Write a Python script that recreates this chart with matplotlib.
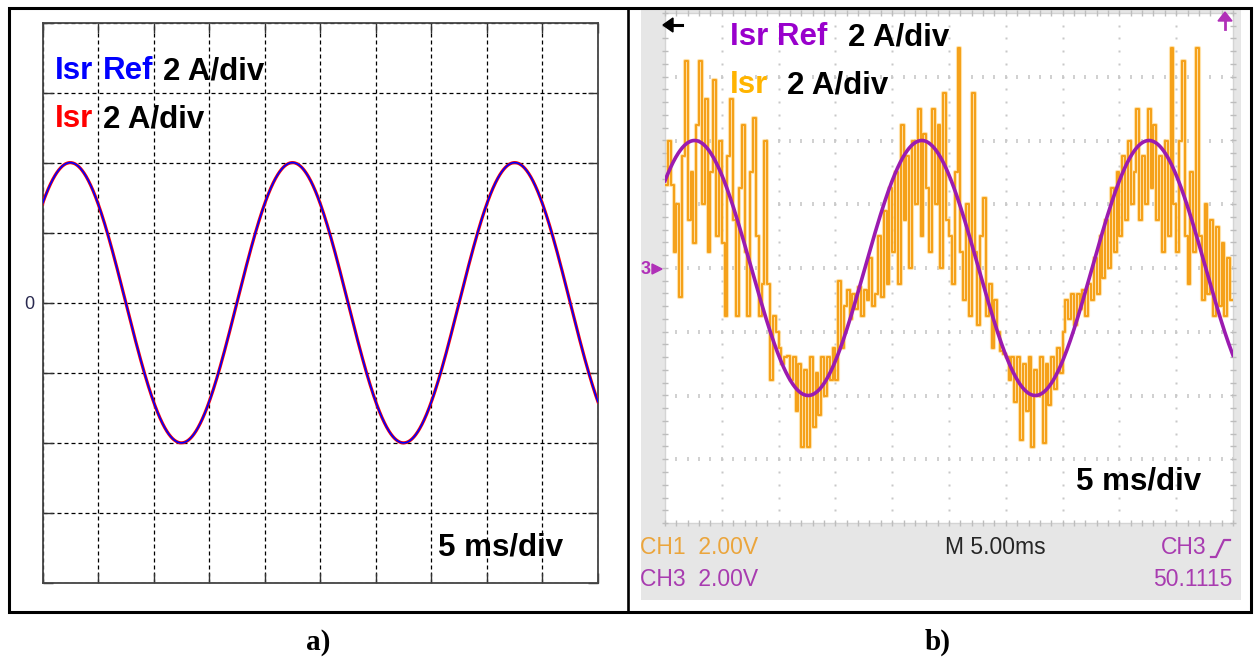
import numpy as np
import matplotlib
matplotlib.use("Agg")
import matplotlib.pyplot as plt
from matplotlib.patches import Rectangle, Polygon

W, H, DPI = 1256, 658, 100

# ---------------- data ----------------
# both panels: 5 ms/div horizontally, 2 A/div vertically
time_span_ms = 50.0
ref_amplitude_a = 4.0
ref_freq_hz = 50.0
sim_peak_time_ms = 2.5      # first positive peak of the reference, simulation
exp_peak_time_ms = 2.6      # first positive peak of the reference, experiment

# measured Isr (experiment), one sample every 0.25 ms from 0 to 50 ms
isr_step_ms = 0.25
isr_exp = [
    2.6, 4.0, 2.6, 0.5, 2.0, -0.9, 3.5, 6.5, 1.5, 3.0, 0.8, 4.5, 6.5, 2.0, 5.3, 0.5, 3.0, 5.9, 1.0, 4.0,
    0.8, -1.5, 3.5, 5.3, 1.5, -1.5, 2.5, 4.5, 0.5, -1.5, 3.0, 4.7, 1.0, -1.5, -0.5, 4.0, -0.5, -3.5, -1.5, -2.0,
    -2.5, -3.0, -2.8, -2.76, -3.5, -2.8, -4.5, -3.0, -5.6, -3.2, -5.6, -2.8, -5.0, -3.3, -4.6, -2.8, -4.0, -2.8, -3.5, -2.5,
    -3.5, -0.4, -2.5, -1.2, -0.7, -1.6, -0.8, -1.3, -0.6, -1.5, -0.7, -1.0, 0.3, -1.2, -0.8, 1.0, -0.9, 1.8, -0.5, 2.5,
    0.5, 3.0, -0.5, 4.5, 1.5, 3.5, 0.0, 4.0, 2.0, 5.0, 1.0, 4.2, 2.5, 0.5, 5.0, 2.0, 4.5, 0.0, 5.5, 1.5,
    1.0, -0.5, 3.0, 6.9, 0.5, -1.0, 2.0, -1.5, 5.5, 0.5, -1.8, 1.0, 2.2, -1.5, -0.5, -2.5, -1.0, -2.0, -2.6, -2.7,
    -2.8, -3.5, -2.8, -4.2, -2.8, -5.4, -3.0, -4.5, -2.8, -5.6, -3.2, -4.0, -2.8, -5.5, -3.0, -4.3, -2.8, -3.8, -2.5, -3.3,
    -2.0, -1.0, -1.6, -0.8, -1.8, -0.8, -1.3, -0.7, -1.5, -0.5, -1.0, 0.3, -0.8, 1.0, -0.3, 1.5, 0.0, 2.5, 0.5, 3.0,
    1.0, 3.5, 1.5, 4.0, 2.0, 3.0, 5.0, 1.5, 3.5, 2.0, 5.0, 2.5, 4.5, 1.5, 3.5, 0.5, 4.0, 1.0, 6.9, 2.0,
    0.5, 4.0, 6.5, 1.0, -0.5, 3.0, 0.5, 6.9, 1.0, -1.0, 2.0, -0.8, 1.5, -1.5, 1.3, -1.2, 0.8, -1.5, 0.3, -1.0,
    -1.0,
]

# scope read-out
status_ch1 = "CH1  2.00V"
status_ch3 = "CH3  2.00V"
status_time = "M 5.00ms"
status_trig = "CH3"
status_freq = "50.1115"

# ---------------- helpers ----------------
fig = plt.figure(figsize=(W / DPI, H / DPI), dpi=DPI)


def px_axes(x0, y0, x1, y1, **kw):
    return fig.add_axes([x0 / W, 1 - y1 / H, (x1 - x0) / W, (y1 - y0) / H], **kw)


def pixel_layer(z):
    a = px_axes(0, 0, W, H, zorder=z)
    a.set_xlim(0, W)
    a.set_ylim(H, 0)
    a.axis("off")
    a.patch.set_alpha(0)
    return a


def sine(t_ms, peak_ms):
    return ref_amplitude_a * np.cos(2 * np.pi * ref_freq_hz * (t_ms - peak_ms) / 1000.0)


t = np.linspace(0, time_span_ms, 2001)

# ---------------- background (scope screen) ----------------
bg = pixel_layer(0)
bg.add_patch(Rectangle((641, 9), 600, 591, fc="#e6e6e6", ec="none"))
bg.add_patch(Rectangle((665, 13), 568, 510, fc="white", ec="none"))

# ---------------- panel a : simulation ----------------
pa = px_axes(42.5, 22.5, 598, 583, zorder=2)
pa.set_xlim(0, time_span_ms)
pa.set_ylim(-8, 8)
pa.set_xticks(np.arange(0, 51, 5))
yt = np.arange(-8, 9, 2)
pa.set_yticks(yt)
pa.set_yticklabels(["0" if v == 0 else "" for v in yt], fontsize=13,
                   family="Liberation Sans", color="#2a2a50")
pa.tick_params(direction="in", length=7, width=1, top=True, right=True,
               labelbottom=False, color="#333333", pad=6)
pa.grid(True, ls=(0, (3.2, 2.4)), color="black", lw=0.9)
for s in pa.spines.values():
    s.set_color("#444444")
    s.set_linewidth(1.3)
pa.plot(t, sine(t, sim_peak_time_ms), color="#ff0000", lw=2.3, zorder=3)
pa.plot(t, sine(t, sim_peak_time_ms), color="#0000ff", lw=1.2, zorder=4)

# ---------------- panel b : experiment ----------------
pb = px_axes(665, 13, 1233, 523, zorder=2)
pb.set_xlim(0, time_span_ms)
pb.set_ylim(-8, 8)
pb.axis("off")
pb.patch.set_alpha(0)

grat = "#c8c8c8"
xs_minor = np.arange(0, 50.01, 1.0)
ys_minor = np.arange(-8, 8.01, 0.4)
for xv in np.arange(5, 50, 5):
    pb.plot(np.full_like(ys_minor, xv), ys_minor, ls="none", marker="s",
            ms=1.6, color=grat, mec="none", zorder=1)
for yv in np.arange(-6, 7, 2):
    pb.plot(xs_minor, np.full_like(xs_minor, yv), ls="none", marker="|",
            ms=3.5, mew=1.2, color=grat, zorder=1)
# graticule border with minor ticks
pb.plot([0, 50, 50, 0, 0], [-8, -8, 8, 8, -8], color="#d4d4d4", lw=1.0, zorder=1, clip_on=False)
pb.plot(xs_minor, np.full_like(xs_minor, -8), ls="none", marker="|", ms=5, mew=1.0,
        color="#bdbdbd", clip_on=False, zorder=1)
pb.plot(xs_minor, np.full_like(xs_minor, 8), ls="none", marker="|", ms=5, mew=1.0,
        color="#bdbdbd", clip_on=False, zorder=1)
pb.plot(np.full_like(ys_minor, 0), ys_minor, ls="none", marker="_", ms=5, mew=1.0,
        color="#bdbdbd", clip_on=False, zorder=1)
pb.plot(np.full_like(ys_minor, 50), ys_minor, ls="none", marker="_", ms=5, mew=1.0,
        color="#bdbdbd", clip_on=False, zorder=1)

t_isr = np.arange(len(isr_exp)) * isr_step_ms
pb.step(t_isr, isr_exp, where="post", color="#ffd27a", lw=3.0, alpha=0.6, zorder=2)
pb.step(t_isr, isr_exp, where="post", color="#f5a11a", lw=1.5, zorder=3)
pb.plot(t, sine(t, exp_peak_time_ms), color="#9b1bb0", lw=2.6, zorder=4)

# ---------------- overlay: frame, labels ----------------
ov = pixel_layer(10)
ov.add_patch(Rectangle((8.5, 7.5), 1251 - 8.5, 612 - 7.5, fc="none", ec="black", lw=2.2))
ov.plot([627.5, 627.5], [7.5, 612], color="black", lw=1.9)

big = dict(fontsize=22.5, fontweight="bold", family="Liberation Sans", va="baseline")
ov.text(55, 79, "Isr", color="#0000ff", **big)
ov.text(103, 79, "Ref", color="#0000ff", **big)
ov.text(163, 79, "2 A/div", color="black", **big)
ov.text(55, 127, "Isr", color="#ff0000", **big)
ov.text(103, 127, "2 A/div", color="black", **big)
ov.text(438, 556, "5 ms/div", color="black", **big)

ov.text(730, 45, "Isr Ref", color="#9900cc", **big)
ov.text(848, 45, "2 A/div", color="black", **big)
ov.text(730, 93, "Isr", color="#ffb400", **big)
ov.text(787, 93, "2 A/div", color="black", **big)
ov.text(1076, 490, "5 ms/div", color="black", **big)

scope = dict(fontsize=16.5, family="Liberation Sans", va="center")
ov.text(640, 548, status_ch1, color="#eba53c", **scope)
ov.text(640, 579, status_ch3, color="#a83cb0", **scope)
ov.text(945, 548, status_time, color="#262626", **scope)
ov.text(1161, 548, status_trig, color="#a83cb0", **scope)
ov.text(1232, 579, status_freq, color="#a83cb0", ha="right", **scope)
ov.plot([1211, 1216, 1224, 1230], [557, 557, 540, 540], color="#a83cb0", lw=1.6)

# screen markers
ov.add_patch(Polygon([[663, 25], [673, 18], [673, 32]], closed=True, fc="black", ec="black"))
ov.plot([672, 682], [25, 25], color="black", lw=2.2)
ov.add_patch(Polygon([[1218, 21], [1225, 12], [1232, 21]], closed=True, fc="#b030b8", ec="#b030b8"))
ov.plot([1225, 1225], [20, 29], color="#b030b8", lw=2)
ov.text(641, 270, "3", color="#b030b8", fontsize=13, fontweight="bold",
        family="Liberation Sans", va="center")
ov.add_patch(Polygon([[652, 264], [662, 269], [652, 274]], closed=True, fc="#b030b8", ec="#b030b8"))

lab = dict(fontsize=21, fontweight="bold", family="Liberation Serif", ha="center", va="baseline")
ov.text(318, 650, "a)", **lab)
ov.text(938, 650, "b)", **lab)

fig.savefig("out.png", dpi=DPI)
